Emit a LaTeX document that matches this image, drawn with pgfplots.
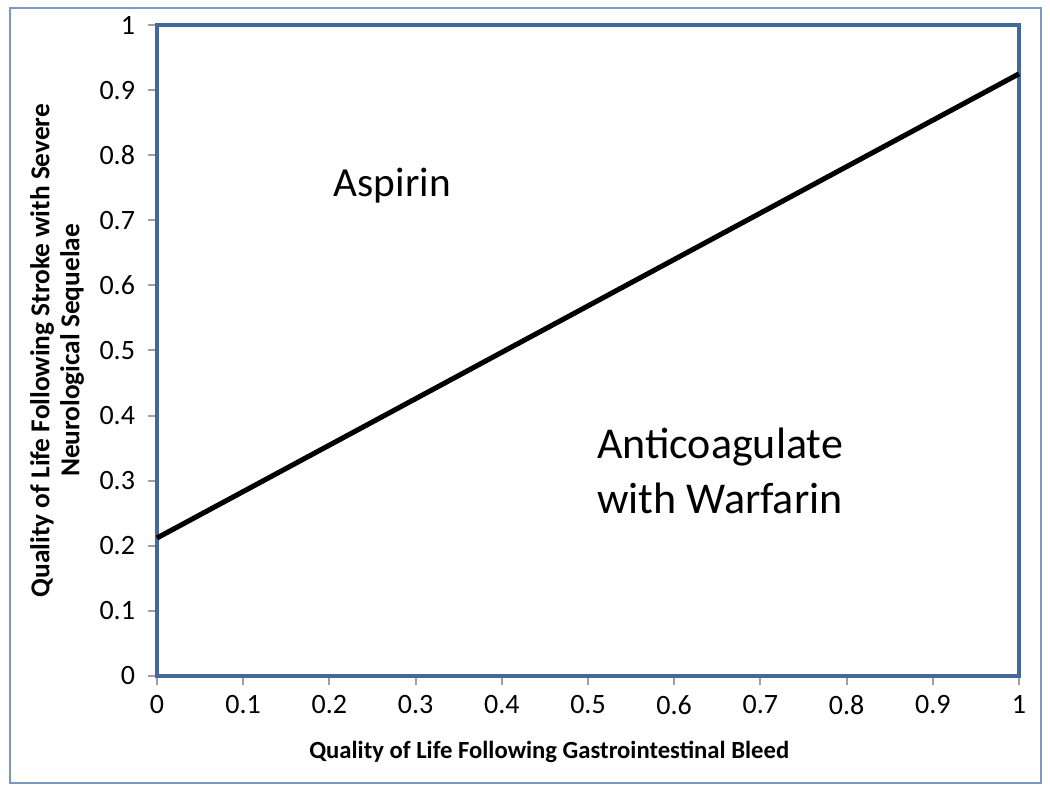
\documentclass[border=0pt]{standalone}
\usepackage{fontspec}
\setmainfont{Carlito}
\usepackage{pgfplots}
\pgfplotsset{compat=1.18}
\definecolor{axisblue}{HTML}{42689C}
\definecolor{frameblue}{HTML}{7A98C0}
\definecolor{tickgray}{HTML}{A0A0A0}

\begin{document}
\begin{tikzpicture}
% 1 px of the 1050x788 reference = 0.75pt, axis origin at (0,0)
\useasboundingbox (-117.75pt,-84pt) rectangle (669.75pt,507pt);
\draw[frameblue, line width=1.5pt] (-110.25pt,-80.25pt) rectangle (663pt,501pt);
\begin{axis}[
    scale only axis,
    width=646.5pt,
    height=488.25pt,
    xmin=0, xmax=1,
    ymin=0, ymax=1,
    xtick={0,0.1,...,1},
    ytick={0,0.1,...,1},
    xticklabels={0,0.1,0.2,0.3,0.4,0.5,0.6,0.7,0.8,0.9,1},
    yticklabels={0,0.1,0.2,0.3,0.4,0.5,0.6,0.7,0.8,0.9,1},
    /pgf/number format/assume math mode=true,
    tick align=outside,
    tick pos=left,
    major tick length=7pt,
    every tick/.style={tickgray, line width=1.5pt},
    axis line style={axisblue, line width=3pt},
    ticklabel style={font=\fontsize{21}{24}\selectfont},
    xticklabel style={yshift=-4pt},
    yticklabel style={xshift=-6pt},
    xlabel={Quality of Life Following Gastrointestinal Bleed},
    ylabel={Quality of Life Following Stroke with Severe\\Neurological Sequelae},
    xlabel style={font=\fontsize{18.5}{22}\selectfont\bfseries,
        at={(axis description cs:0.455,-0.117)}, anchor=center},
    ylabel style={font=\fontsize{20.5}{22.5}\selectfont\bfseries,
        at={(axis description cs:-0.116,0.5)}, anchor=center, align=center},
    clip=false,
]
\addplot[black, line width=3.8pt] coordinates {(0,0.212) (1,0.925)};
\node[font=\fontsize{31}{36}\selectfont, anchor=center] at (axis cs:0.273,0.754) {Aspirin};
\node[font=\fontsize{33}{41}\selectfont, anchor=west, align=left] at (axis cs:0.505,0.315) {Anticoagulate\\with Warfarin};
\end{axis}
\end{tikzpicture}
\end{document}
